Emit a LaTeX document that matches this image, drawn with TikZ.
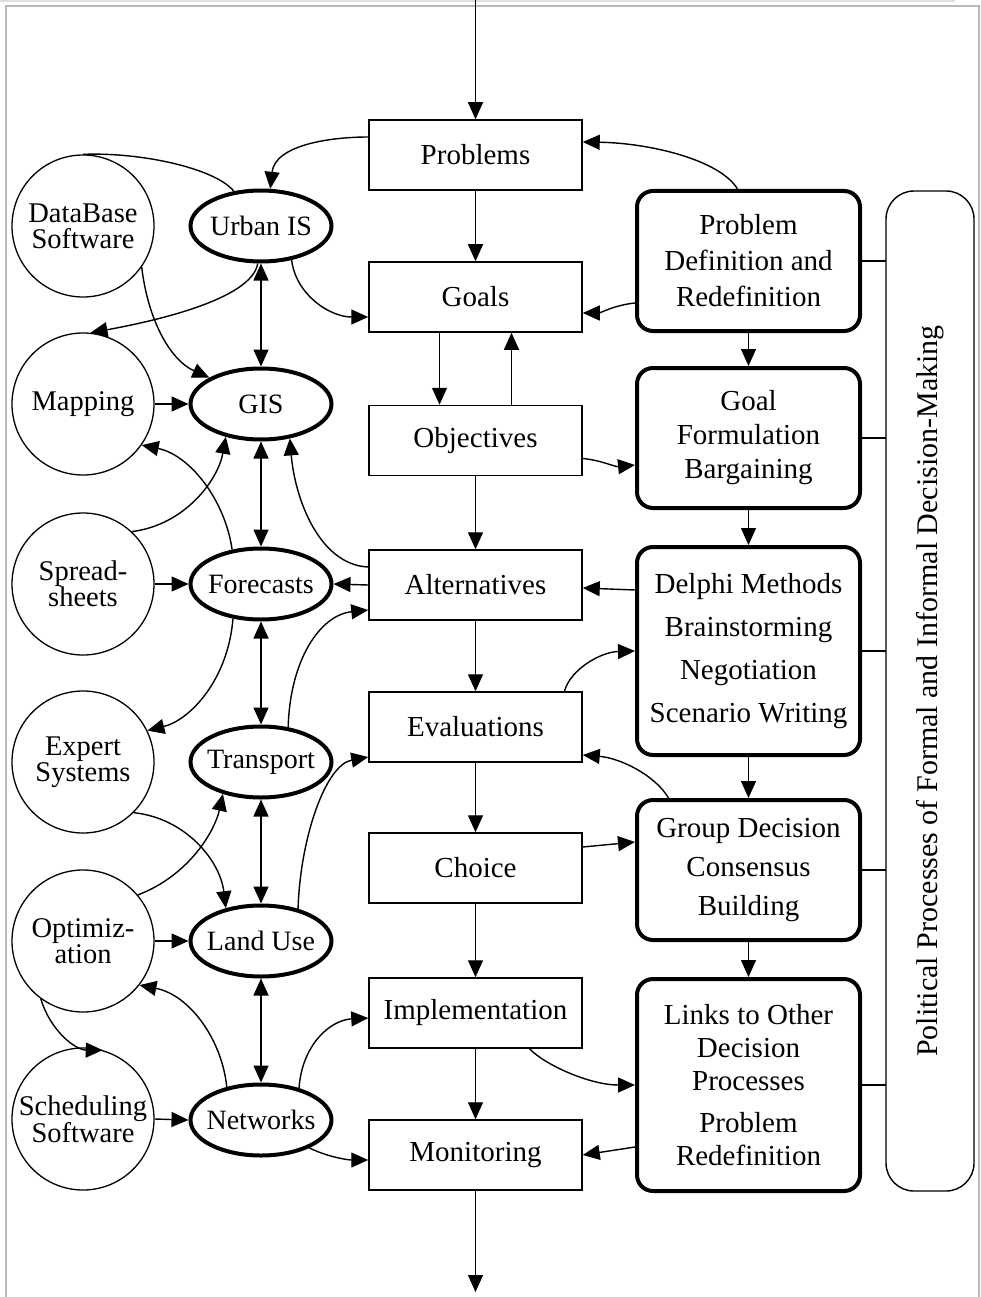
\documentclass[tikz,border=0pt]{standalone}
\usepackage{fontspec}
\setmainfont{Liberation Serif}
\usetikzlibrary{shapes.geometric,arrows.meta}
\newcommand\dgfont{\fontsize{29}{31}\selectfont}
\newcommand\ez[1]{\makebox[0pt]{#1}}
\begin{document}
\begin{tikzpicture}[x=1pt,y=-1pt,
  conn/.style={line width=1.4pt,-{Triangle[length=17pt,width=15pt]}},
  dconn/.style={line width=1.4pt,{Triangle[length=17pt,width=15pt]}-{Triangle[length=17pt,width=15pt]}},
  plainline/.style={line width=1.4pt},
  rectbox/.style={draw,line width=1.5pt,minimum width=213pt,minimum height=70pt,inner sep=0pt,font=\dgfont},
  circ/.style={circle,draw,line width=1.3pt,minimum size=142pt,inner sep=0pt,align=center,font=\fontsize{28.5}{26}\selectfont},
  ell/.style={ellipse,draw,line width=4pt,minimum width=141pt,minimum height=71pt,inner sep=0pt,font=\fontsize{28}{30}\selectfont},
  rbox/.style={draw,rounded corners=16pt,line width=4pt,minimum width=223pt,inner sep=0pt,align=center}
]
\useasboundingbox (0,0) rectangle (981,1297);
% frame of the screenshot
\draw[gray!25,line width=1.5pt] (0,1) -- (955,1);
\draw[gray!55,line width=1.5pt] (6,1297) -- (6,6) -- (979,6) -- (979,1297);

% middle column
\node[rectbox] (prob) at (475.5,155) {Problems};
\node[rectbox] (goals) at (475.5,297) {Goals};
\node[rectbox] (obj) at (475.5,440.5) {Objectives};
\node[rectbox] (alt) at (475.5,585) {Alternatives};
\node[rectbox] (eval) at (475.5,727) {Evaluations};
\node[rectbox] (choice) at (475.5,868) {Choice};
\node[rectbox] (impl) at (475.5,1013) {Implementation};
\node[rectbox] (mon) at (475.5,1155) {Monitoring};
\coordinate (top) at (475.5,0);
\coordinate (bot) at (475.5,1292);

% right column
\node[rbox,minimum height=140pt,font=\fontsize{29}{36}\selectfont] (pd) at (748.5,261) {Problem\\Definition and\\Redefinition};
\node[rbox,minimum height=140pt,font=\fontsize{29}{34}\selectfont] (gf) at (748.5,438) {Goal\\Formulation\\Bargaining};
\node[rbox,minimum height=208pt,font=\fontsize{29}{43}\selectfont] (del) at (748.5,651) {Delphi Methods\\Brainstorming\\Negotiation\\Scenario Writing};
\node[rbox,minimum height=140pt,font=\fontsize{29}{39}\selectfont] (grp) at (748.5,870) {Group Decision\\Consensus\\Building};
\node[rbox,minimum height=212pt,font=\fontsize{29}{33}\selectfont] (lnk) at (748.5,1085) {Links to Other\\Decision\\Processes\\[9pt]Problem\\Redefinition};
\node[draw,rounded corners=28pt,line width=1.4pt,rotate=90,minimum width=1000pt,minimum height=88pt,inner sep=0pt,font=\fontsize{30}{32}\selectfont] (bar) at (930,691) {Political Processes of Formal and Informal Decision-Making};
\coordinate (barL) at (886,0);

% left circles
\node[circ] (db) at (83,226) {DataBase\\Software};
\node[circ] (map) at (83,404) {Mapping};
\node[circ] (spr) at (83,584) {Spread-\\sheets};
\node[circ] (exp) at (83,762) {Expert\\Systems};
\node[circ] (opt) at (83,941) {Optimiz-\\ation};
\node[circ] (sch) at (83,1119) {Scheduling\\Software};

% ellipses
\node[ell] (urb) at (261,226) {\ez{Urban IS}};
\node[ell] (gis) at (261,404) {\ez{GIS}};
\node[ell] (fore) at (261,584) {\ez{Forecasts}};
\node[ell] (trans) at (261,762) {\ez{Transport}};
\node[ell] (land) at (261,941) {\ez{Land Use}};
\node[ell] (net) at (261,1120) {\ez{Networks}};

% middle vertical flow
\draw[conn] (top) -- (prob.north);
\draw[conn] (prob) -- (goals);
\draw[conn] ([xshift=-36pt]goals.south) -- ([xshift=-36pt]obj.north);
\draw[conn] ([xshift=36pt]obj.north) -- ([xshift=36pt]goals.south);
\draw[conn] (obj) -- (alt);
\draw[conn] (alt) -- (eval);
\draw[conn] (eval) -- (choice);
\draw[conn] (choice) -- (impl);
\draw[conn] (impl) -- (mon);
\draw[conn] (mon.south) -- (bot);

% right vertical flow
\draw[conn] (pd) -- (gf);
\draw[conn] (gf) -- (del);
\draw[conn] (del) -- (grp);
\draw[conn] (grp) -- (lnk);
\foreach \b in {pd,gf,del,grp,lnk}
  \draw[plainline] (\b.east) -- (\b.east -| barL);

% ellipse chain
\draw[dconn] (urb) -- (gis);
\draw[dconn] (gis) -- (fore);
\draw[dconn] (fore) -- (trans);
\draw[dconn] (trans) -- (land);
\draw[dconn] (land) -- (net);

% circles to ellipses
\draw[conn] (map) -- (gis);
\draw[conn] (spr) -- (fore);
\draw[conn] (opt) -- (land);
\draw[conn] (sch.east) -- (net.west);
\draw[conn] (alt.west) -- (fore.east);

% left curves
\draw[conn] ([yshift=18pt]prob.west) .. controls (330,137) and (275,145) .. (urb.76);
\draw[plainline] (urb.128) .. controls (215,168) and (140,152) .. (db.north);
\draw[conn] (db.-35) .. controls (148,320) and (170,360) .. (gis.153);
\draw[conn] (urb.-95) .. controls (252,300) and (150,322) .. (map.84);
\draw[conn] (urb.-48) .. controls (296,295) and (330,317) .. ([yshift=-20pt]goals.west);
\draw[conn] (spr.47) .. controls (185,525) and (218,480) .. (gis.-137);
\draw[conn] (fore.130) .. controls (225,500) and (190,455) .. (map.-35);
\draw[conn] ([yshift=18pt]alt.west) .. controls (320,565) and (295,500) .. (gis.-50);
\draw[conn] (trans.52) .. controls (290,660) and (320,615) .. ([yshift=-25pt]alt.west);
\draw[conn] (fore.-129) .. controls (228,680) and (190,720) .. (exp.26);
\draw[conn] (land.41) .. controls (300,840) and (325,765) .. ([yshift=-30pt]eval.west);
\draw[conn] (opt.40) .. controls (190,875) and (215,830) .. (trans.-140);
\draw[conn] (exp.-45) .. controls (185,818) and (220,860) .. (land.137);
\draw[conn] (net.136) .. controls (222,1040) and (190,995) .. (opt.-38);
\draw[conn] (opt.-126) .. controls (50,1030) and (75,1050) .. (sch.74);
\draw[conn] (net.40) .. controls (302,1045) and (330,1020) .. ([yshift=-5pt]impl.west);
\draw[conn] (net.-30) .. controls (330,1158) and (350,1160) .. ([yshift=-5pt]mon.west);

% right curves
\draw[conn] ([yshift=-18pt]obj.east) .. controls (600,460) and (615,467) .. ([yshift=-27pt]gf.west);
\draw[conn] ([yshift=-42pt]pd.west) .. controls (615,305) and (600,313) .. ([yshift=-16pt]goals.east);
\draw[conn] ([xshift=-11pt]pd.north) .. controls (720,160) and (650,143) .. ([yshift=13pt]prob.east);
\draw[conn] ([yshift=61pt]del.west) -- ([yshift=-3pt]alt.east);
\draw[conn] ([xshift=89pt]eval.north) .. controls (570,670) and (600,652) .. (del.west);
\draw[conn] ([xshift=-80pt]grp.north) .. controls (655,775) and (620,758) .. ([yshift=-28pt]eval.east);
\draw[conn] ([yshift=21pt]choice.east) -- ([yshift=28pt]grp.west);
\draw[conn] ([xshift=54pt]impl.south) .. controls (545,1065) and (590,1085) .. (lnk.west);
\draw[conn] ([yshift=-62pt]lnk.west) -- (mon.east);
\end{tikzpicture}
\end{document}
